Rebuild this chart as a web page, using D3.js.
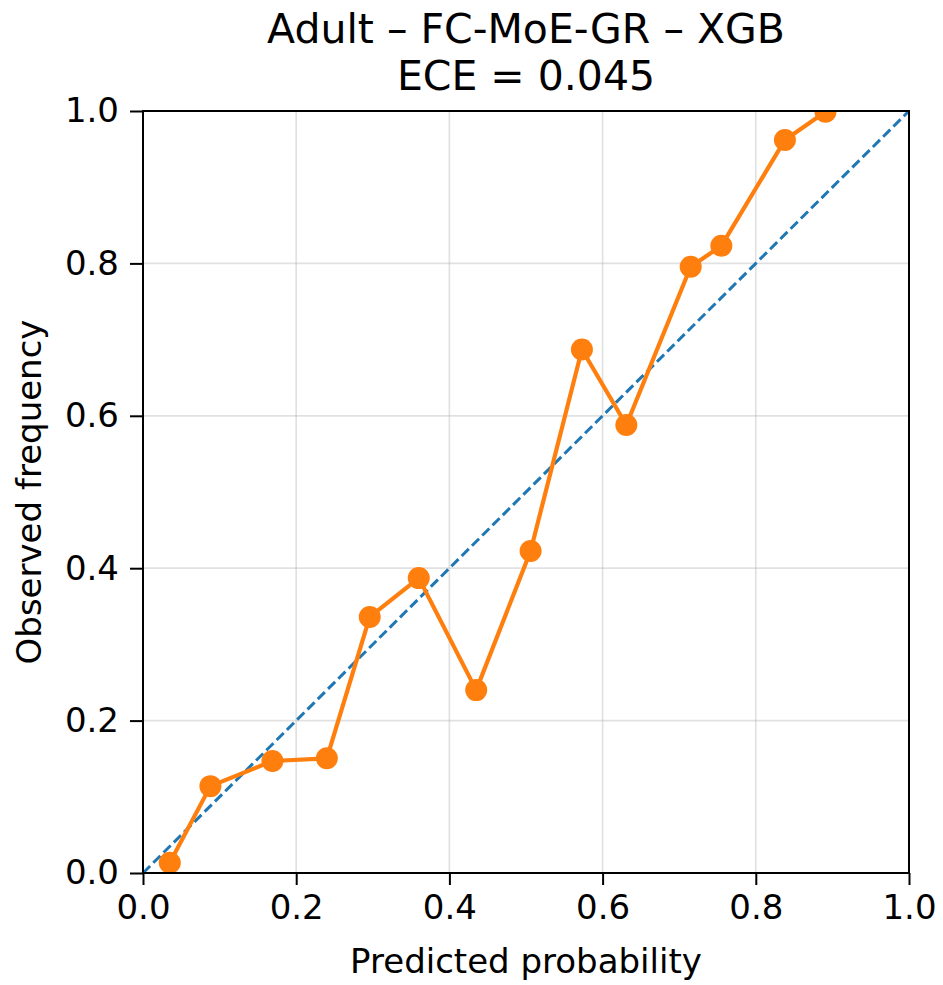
<!DOCTYPE html>
<html>
<head>
<meta charset="utf-8">
<script src="https://cdn.jsdelivr.net/npm/d3@7"></script>
<style>
  html, body { margin: 0; padding: 0; background: #fff; }
  text { font-family: "DejaVu Sans", sans-serif; fill: #000; }
</style>
</head>
<body>
<svg id="chart" width="943" height="985"></svg>
<script>
const titleLines = ["Adult \u2013 FC-MoE-GR \u2013 XGB", "ECE = 0.045"];
const xLabel = "Predicted probability";
const yLabel = "Observed frequency";
const predicted = [0.035, 0.088, 0.169, 0.240, 0.296, 0.360, 0.435, 0.506, 0.573, 0.631, 0.715, 0.755, 0.838, 0.891];
const observed  = [0.0135, 0.114, 0.147, 0.1505, 0.336, 0.387, 0.240, 0.4226, 0.687, 0.588, 0.7957, 0.823, 0.962, 0.999];
const diagonal = [0, 1];
const tickValues = [0, 0.2, 0.4, 0.6, 0.8, 1.0];

const svg = d3.select("#chart");
const m = { left: 143, right: 943 - 909, top: 111, bottom: 985 - 873 };
const W = 943 - m.left - m.right, H = 985 - m.top - m.bottom;

const x = d3.scaleLinear().domain([0, 1]).range([m.left, m.left + W]);
const y = d3.scaleLinear().domain([0, 1]).range([m.top + H, m.top]);

svg.append("defs").append("clipPath").attr("id", "clip")
  .append("rect").attr("x", m.left).attr("y", m.top).attr("width", W).attr("height", H);

// grid
const grid = svg.append("g");
grid.selectAll(".gx").data(tickValues).enter().append("line")
  .attr("x1", d => x(d)).attr("x2", d => x(d)).attr("y1", m.top).attr("y2", m.top + H)
  .attr("stroke", "#b0b0b0").attr("stroke-opacity", 0.38).attr("stroke-width", 1.7);
grid.selectAll(".gy").data(tickValues).enter().append("line")
  .attr("y1", d => y(d)).attr("y2", d => y(d)).attr("x1", m.left).attr("x2", m.left + W)
  .attr("stroke", "#b0b0b0").attr("stroke-opacity", 0.38).attr("stroke-width", 1.7);

const plot = svg.append("g").attr("clip-path", "url(#clip)");

// diagonal
plot.append("line")
  .attr("x1", x(diagonal[0])).attr("y1", y(diagonal[0]))
  .attr("x2", x(diagonal[1])).attr("y2", y(diagonal[1]))
  .attr("stroke", "#1f77b4").attr("stroke-width", 3).attr("stroke-dasharray", "10,4.5");

const pts = predicted.map((p, i) => [p, observed[i]]);
plot.append("path").datum(pts)
  .attr("d", d3.line().x(d => x(d[0])).y(d => y(d[1])))
  .attr("fill", "none").attr("stroke", "#ff7f0e").attr("stroke-width", 4.2)
  .attr("stroke-linejoin", "round");
plot.selectAll("circle").data(pts).enter().append("circle")
  .attr("cx", d => x(d[0])).attr("cy", d => y(d[1])).attr("r", 11)
  .attr("fill", "#ff7f0e");

// axes
const fmt = d3.format(".1f");
const xAxis = svg.append("g").attr("transform", `translate(0,${m.top + H})`)
  .call(d3.axisBottom(x).tickValues(tickValues).tickFormat(fmt).tickSize(12).tickPadding(10));
const yAxis = svg.append("g").attr("transform", `translate(${m.left},0)`)
  .call(d3.axisLeft(y).tickValues(tickValues).tickFormat(fmt).tickSize(13).tickPadding(11));
[xAxis, yAxis].forEach(a => {
  a.select(".domain").remove();
  a.selectAll(".tick line").attr("stroke", "#000").attr("stroke-width", 2);
  a.selectAll(".tick text").attr("font-size", 34).attr("font-family", "DejaVu Sans").attr("fill", "#000");
});
xAxis.selectAll(".tick text").attr("dy", "0.71em");

// spines
svg.append("rect").attr("x", m.left).attr("y", m.top).attr("width", W).attr("height", H)
  .attr("fill", "none").attr("stroke", "#000").attr("stroke-width", 2);

// title
svg.append("text").attr("x", x(0.5)).attr("y", 43).attr("text-anchor", "middle")
  .attr("font-size", 41).text(titleLines[0]);
svg.append("text").attr("x", x(0.5)).attr("y", 90).attr("text-anchor", "middle")
  .attr("font-size", 41).text(titleLines[1]);

// labels
svg.append("text").attr("x", x(0.5)).attr("y", 973).attr("text-anchor", "middle")
  .attr("font-size", 34).text(xLabel);
svg.append("text").attr("transform", `translate(41,${y(0.5)}) rotate(-90)`)
  .attr("text-anchor", "middle").attr("font-size", 34).text(yLabel);
</script>
</body>
</html>
